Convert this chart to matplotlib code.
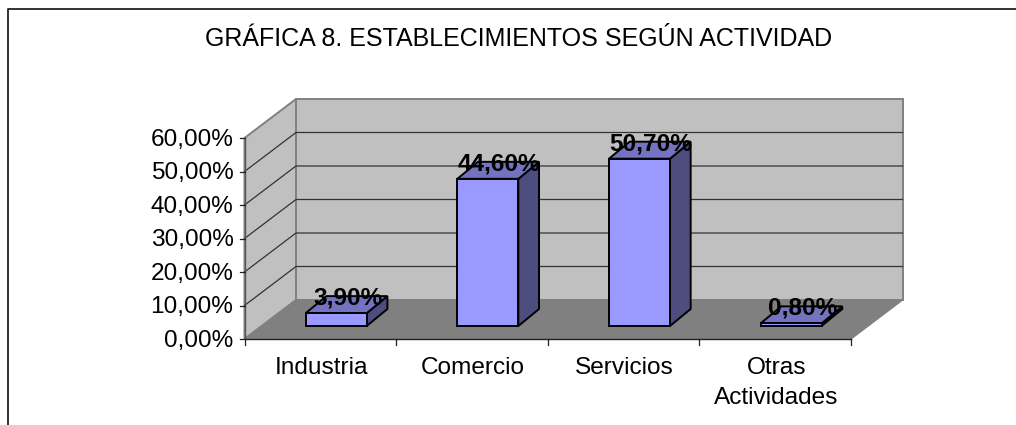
import matplotlib
matplotlib.use('Agg')
import matplotlib.pyplot as plt
from matplotlib.patches import Polygon
from matplotlib.lines import Line2D

plt.rcParams['font.family'] = ['Liberation Sans', 'DejaVu Sans']

categories = ['Industria', 'Comercio', 'Servicios', 'Otras\nActividades']
values = [3.9, 44.6, 50.7, 0.8]
value_labels = ['3,90%', '44,60%', '50,70%', '0,80%']
y_ticks = [0, 10, 20, 30, 40, 50, 60]
y_tick_labels = ['0,00%', '10,00%', '20,00%', '30,00%', '40,00%', '50,00%', '60,00%']
title = 'GRÁFICA 8. ESTABLECIMIENTOS SEGÚN ACTIVIDAD'

W, H = 1016, 425
FS = 17.6
fig = plt.figure(figsize=(W / 100, H / 100), dpi=100)
fig.patch.set_facecolor('white')

# front plane of the fake 3d box
ax = fig.add_axes([244.5 / W, (H - 339) / H, 606.5 / W, 201 / H])
ax.set_xlim(0, 4)
ax.set_ylim(0, 60)
ax.axis('off')

# depth in data units
px_x = 4 / 606.5
px_y = 60 / 201
box_dx = 51.5 * px_x
box_dy = 39 * px_y
bar_off_x = -14.6 * px_x
bar_off_y = 13 * px_y
bar_dx = 20.7 * px_x
bar_dy = 17 * px_y
bar_w = 61 * px_x
bar_scale = 3.3 / 3.35


def poly(pts, fc, ec, lw, z):
    ax.add_patch(Polygon(pts, closed=True, facecolor=fc, edgecolor=ec, linewidth=lw,
                         zorder=z, clip_on=False, joinstyle='miter'))


# walls and floor
poly([(0, 0), (box_dx, box_dy), (box_dx, 60 + box_dy), (0, 60)], '#c0c0c0', '#808080', 1.4, 1)
poly([(box_dx, box_dy), (4 + box_dx, box_dy), (4 + box_dx, 60 + box_dy), (box_dx, 60 + box_dy)],
     '#c0c0c0', '#808080', 1.4, 1)
poly([(0, 0), (4, 0), (4 + box_dx, box_dy), (box_dx, box_dy)], '#808080', '#808080', 1.0, 2)

# gridlines
for t in y_ticks[1:-1]:
    ax.plot([0, box_dx, 4 + box_dx], [t, t + box_dy, t + box_dy], color='#333333', lw=0.9,
            zorder=3, clip_on=False, solid_joinstyle='miter')

# axes lines and ticks
ax.plot([0, 0], [0, 60], color='#555555', lw=1.0, zorder=4, clip_on=False)
ax.plot([0, 4], [0, 0], color='#222222', lw=1.0, zorder=4, clip_on=False)
for t, lab in zip(y_ticks, y_tick_labels):
    ax.plot([-5 * px_x, 0], [t, t], color='#222222', lw=0.9, clip_on=False, zorder=4)
    ax.text(-11 * px_x, t - 1.7 * px_y, lab, ha='right', va='center', fontsize=FS, color='black')
for i in range(len(categories) + 1):
    ax.plot([i, i], [0, -6 * px_y], color='#222222', lw=0.9, clip_on=False, zorder=4)

# bars
for i, (cat, v, lab) in enumerate(zip(categories, values, value_labels)):
    x0 = i + 0.5 + bar_off_x
    x1 = x0 + bar_w
    y0 = bar_off_y
    y1 = y0 + v * bar_scale
    z = 5 + i
    poly([(x1, y0), (x1 + bar_dx, y0 + bar_dy), (x1 + bar_dx, y1 + bar_dy), (x1, y1)],
         '#4d4d80', 'black', 1.4, z)
    poly([(x0, y1), (x1, y1), (x1 + bar_dx, y1 + bar_dy), (x0 + bar_dx, y1 + bar_dy)],
         '#7373bf', 'black', 1.4, z)
    poly([(x0, y0), (x1, y0), (x1, y1), (x0, y1)], '#9999ff', 'black', 1.4, z)
    ax.text(x0 + 42 * px_x, y1 + 15 * px_y, lab, ha='center', va='center',
            fontsize=FS, fontweight='bold', color='black', zorder=20)
    ax.text(i + 0.5 + 1 * px_x, -18 * px_y, cat, ha='center', va='top', fontsize=FS, color='black',
            linespacing=1.5)

fig.text(518.5 / W, 1 - 38.5 / H, title, ha='center', va='center', fontsize=18, color='black')

# outer frame of the chart, only left and top are visible
fig.add_artist(Line2D([7.5 / W, 7.5 / W, 1], [0, 1 - 9 / H, 1 - 9 / H], color='#222222', lw=1.3,
                      transform=fig.transFigure))

fig.savefig('out.png', dpi=100)
